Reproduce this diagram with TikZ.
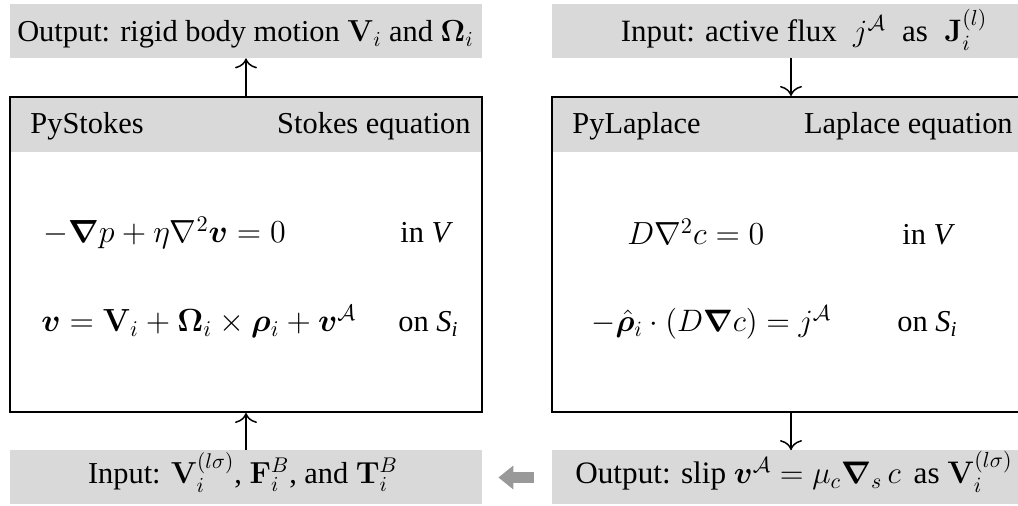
\RequirePackage{fix-cm}
\documentclass[tikz,border=0pt]{standalone}
\usepackage{amsmath,bm}
\usepackage[no-math]{fontspec}
\setmainfont{Liberation Serif}
\usetikzlibrary{arrows.meta}
\definecolor{boxgray}{HTML}{D9D9D9}
\definecolor{arrowgray}{HTML}{999999}
\begin{document}
\begin{tikzpicture}[x=0.5pt,y=-0.5pt,
  every node/.style={font=\fontsize{15.2}{18}\selectfont, inner sep=0pt},
  eqn/.style={font=\fontsize{16}{19}\selectfont, anchor=base west},
  graybox/.style={fill=boxgray, draw=none, minimum width=#1, minimum height=27pt},
  framebox/.style={draw=black, line width=1pt, minimum width=#1, minimum height=157.5pt},
  txt/.style={anchor=base},
  flow/.style={line width=0.75pt, -{To[length=5pt,width=11pt]}},
  bigarrow/.style={draw=arrowgray, line width=5.5pt, -{Triangle[length=7.5pt,width=11.5pt]}}]
\clip (0,0) rectangle (1018,506);
% boxes
\node[graybox=236pt] (outL) at (246,31) {};
\node[graybox=239pt] (inR) at (791,31) {};
\node[graybox=236pt] (inL) at (246,477.5) {};
\node[graybox=239pt] (outR) at (791,477.5) {};
\fill[boxgray] (10,97) rectangle (482,152);
\fill[boxgray] (552,97) rectangle (1030,152);
\node[framebox=236pt] (mainL) at (246,254.5) {};
\node[framebox=239pt] (mainR) at (791,254.5) {};
% box texts
\node[txt] (tOutL) at (245.5,42) {Output: rigid body motion $\mathbf{V}_i$ and $\boldsymbol{\Omega}_i$};
\node[txt, font=\fontsize{15.5}{18}\selectfont] (tInR) at (804,42) {Input: active flux\; $j^{\mathcal{A}}$ \;as\; $\mathbf{J}_i^{(l)}$};
\node[txt] (tInL) at (243,484) {Input: $\mathbf{V}_i^{(l\sigma)}$, $\mathbf{F}_i^B$, and $\mathbf{T}_i^B$};
\node[txt, font=\fontsize{15.6}{18}\selectfont] (tOutR) at (794,484) {Output: slip $\boldsymbol{v}^{\mathcal{A}}=\mu_c\boldsymbol{\nabla}_s\,c$\, as $\mathbf{V}_i^{(l\sigma)}$};
% headers
\node[anchor=base west] (hL1) at (30,134) {PyStokes};
\node[anchor=base east] (hL2) at (471,134) {Stokes equation};
\node[anchor=base west] (hR1) at (572,134) {PyLaplace};
\node[anchor=base east] (hR2) at (1013,134) {Laplace equation};
% equations
\node[eqn] (eL1) at (43,243) {$-\boldsymbol{\nabla}p+\eta\nabla^2\boldsymbol{v}=0$};
\node[anchor=base west] (cL1) at (400,243) {in \textit{V}};
\node[eqn] (eL2) at (41,332) {$\boldsymbol{v}=\mathbf{V}_i+\boldsymbol{\Omega}_i\times\boldsymbol{\rho}_i+\boldsymbol{v}^{\mathcal{A}}$};
\node[anchor=base west] (cL2) at (398,332) {on \textit{S}\textsubscript{\textit{i}}};
\node[eqn] (eR1) at (627,245) {$D\nabla^2c=0$};
\node[anchor=base west] (cR1) at (902,245) {in \textit{V}};
\node[eqn, font=\fontsize{15.5}{19}\selectfont] (eR2) at (591,332) {$-\hat{\boldsymbol{\rho}}_i\cdot(D\boldsymbol{\nabla}c)=j^{\mathcal{A}}$};
\node[anchor=base west] (cR2) at (897,332) {on \textit{S}\textsubscript{\textit{i}}};
% connectors
\draw[flow] (mainL.north) -- (outL.south);
\draw[flow] (inR.south) -- (mainR.north);
\draw[flow] (inL.north) -- (mainL.south);
\draw[flow] (mainR.south) -- (outR.north);
\draw[bigarrow, shorten <=9pt, shorten >=8pt] (outR.west) -- (inL.east);
\end{tikzpicture}
\end{document}
